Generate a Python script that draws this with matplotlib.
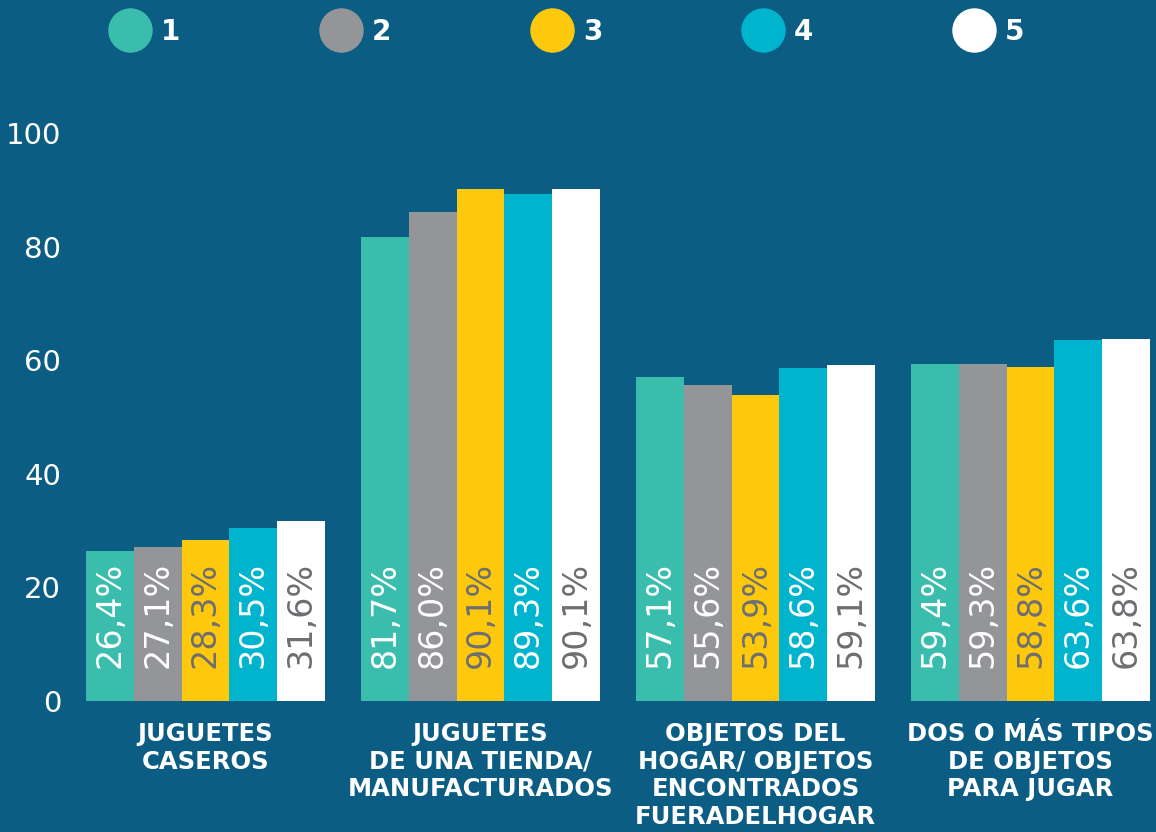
import numpy as np
import matplotlib.pyplot as plt
from matplotlib.lines import Line2D

#%% Data
categories = ['JUGUETES\nCASEROS',
              'JUGUETES\nDE UNA TIENDA/\nMANUFACTURADOS',
              'OBJETOS DEL\nHOGAR/ OBJETOS\nENCONTRADOS\nFUERADELHOGAR',
              'DOS O MÁS TIPOS\nDE OBJETOS\nPARA JUGAR']
series_names = ['1', '2', '3', '4', '5']
values_1 = [26.4, 81.7, 57.1, 59.4]
values_2 = [27.1, 86.0, 55.6, 59.3]
values_3 = [28.3, 90.1, 53.9, 58.8]
values_4 = [30.5, 89.3, 58.6, 63.6]
values_5 = [31.6, 90.1, 59.1, 63.8]
yticks = [0, 20, 40, 60, 80, 100]

#%% Style
bg = '#0b5d84'
bar_colors = ['#3bbdad', '#939598', '#fec90c', '#00b4cd', '#ffffff']
text_colors = ['white', 'white', '#6d6e71', 'white', '#6d6e71']

fig = plt.figure(figsize=(11.56, 8.32), dpi=100, facecolor=bg)
ax = fig.add_axes([75/1156, 131/832, 1081/1156, 601/832])
ax.set_facecolor(bg)

all_values = [values_1, values_2, values_3, values_4, values_5]
x = np.arange(len(categories))
width = 0.174

for i, vals in enumerate(all_values):
    xs = x + (i - 2) * width
    ax.bar(xs, vals, width=width, color=bar_colors[i], linewidth=0)
    for xi, v in zip(xs, vals):
        ax.text(xi, 5.8, '{:.1f}%'.format(v).replace('.', ','), rotation=90,
                ha='center', va='bottom', color=text_colors[i], fontsize=24)

ax.set_xlim(-0.4745, 3.4564)
ax.set_ylim(0, 105.8)
ax.set_yticks(yticks)
ax.set_yticklabels([str(t) for t in yticks], fontsize=21, color='white')
ax.set_xticks(x)
ax.set_xticklabels(categories, fontsize=17.5, fontweight='bold', color='white',
                   linespacing=1.2, va='top')
ax.tick_params(axis='both', length=0)
ax.tick_params(axis='y', pad=10)
ax.tick_params(axis='x', pad=15)
for s in ax.spines.values():
    s.set_visible(False)

handles = [Line2D([], [], marker='o', linestyle='none', markersize=32,
                  markerfacecolor=c, markeredgewidth=0) for c in bar_colors]
leg = fig.legend(handles, series_names, loc='upper left',
                 bbox_to_anchor=(108/1156, 1 - 18/832), ncol=5, frameon=False,
                 fontsize=20, handlelength=1.6, handletextpad=0.3,
                 columnspacing=5.0, borderpad=0, borderaxespad=0)
for t in leg.get_texts():
    t.set_color('white')
    t.set_fontweight('bold')

fig.savefig('out.png', dpi=100, facecolor=bg)
